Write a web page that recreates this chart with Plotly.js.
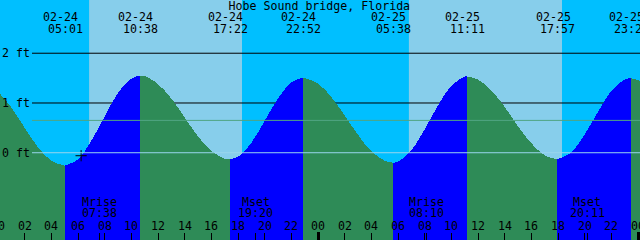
<!DOCTYPE html>
<html>
<head>
<meta charset="utf-8">
<script src="https://cdn.plot.ly/plotly-3.0.1.min.js"></script>
<style>
html,body{margin:0;padding:0;background:#00BFFF;}
#chart{width:640px;height:240px;}
.js-fill{shape-rendering:crispEdges;}
</style>
</head>
<body>
<div id="chart"></div>
<script>
// ---------------- data ----------------
const chartTitle = "Hobe Sound bridge, Florida";

// tide extremes
const tideDays    = [0, 0, 0, 0, 1, 1, 1, 1];
const tideDates   = ["02-24", "02-24", "02-24", "02-24", "02-25", "02-25", "02-25", "02-25"];
const tideTimes   = ["05:01", "10:38", "17:22", "22:52", "05:38", "11:11", "17:57", "23:27"];
const tideHeights = [-0.26, 1.55, -0.13, 1.51, -0.20, 1.53, -0.13, 1.50];

// tide height read at each hour from 02-24 00:00 (feet)
const curveHours = [0,1,2,3,4,5,6,7,8,9,10,11,12,13,14,15,16,17,18,19,20,21,22,23,24,
                    25,26,27,28,29,30,31,32,33,34,35,36,37,38,39,40,41,42,43,44,45,46,47,48,49];
const curveFeet  = [1.23,0.91,0.50,0.11,-0.16,-0.26,-0.13,0.24,0.73,1.20,1.49,1.54,1.38,1.09,0.71,0.33,0.04,-0.12,
                    -0.08,0.20,0.64,1.09,1.41,1.51,1.39,1.12,0.75,0.36,0.03,-0.16,-0.18,0.05,0.47,0.95,1.34,1.53,
                    1.47,1.25,0.92,0.53,0.19,-0.05,-0.13,0.01,0.37,0.82,1.24,1.47,1.46,1.33];

// sun
const sunDays    = [0, 1];
const sunrise    = ["06:50", "06:49"];
const sunset     = ["18:18", "18:18"];

// moon
const moonDays   = [0, 0, 1, 1];
const moonLabels = ["Mrise", "Mset", "Mrise", "Mset"];
const moonTimes  = ["07:38", "19:20", "08:10", "20:11"];

// current-time mark
const nowTime = "06:14";
const nowFeet = -0.06;

// axis ticks / labels
const hourTicks  = [0,2,4,6,8,10,12,14,16,18,20,22,24,26,28,30,32,34,36,38,40,42,44,46,48];
const tickLabels = ["00","02","04","06","08","10","12","14","16","18","20","22",
                    "00","02","04","06","08","10","12","14","16","18","20","22","00"];
const midnights  = [0, 24, 48];
const levelFeet   = [2, 1, 0];
const levelLabels = ["2 ft", "1 ft", "0 ft"];
const meanLevel  = 0.65;

// ---------------- styling ----------------
const C_NIGHT = "#00BFFF", C_DAY = "#87CEEB", C_FALL = "#2E8B57", C_RISE = "#0000FF";
const C_ZERO = "#9AD5EE", C_MEAN = "#50A583";
const FONT = {family: "DejaVu Sans Mono, monospace", size: 11.6, color: "#000"};
const W = 640, H = 240;
const xRange = [0.15, 48.15];
const yRange = [-1.754, 3.070];
const py = p => 1 - p / H;                                          // pixel row -> paper y
const xPaper = t => (t - xRange[0]) / (xRange[1] - xRange[0]);      // hour -> paper x (same linear axis)

function hm(s, day) { const [h, m] = s.split(":").map(Number); return day * 24 + h + m / 60; }

// ---------------- tide traces ----------------
const extT = tideTimes.map((s, i) => hm(s, tideDays[i]));
const bounds = [{t: curveHours[0], v: curveFeet[0]}]
  .concat(extT.map((t, i) => ({t, v: tideHeights[i]})))
  .concat([{t: curveHours[curveHours.length - 1], v: curveFeet[curveFeet.length - 1]}]);

const traces = [];
const yBase = yRange[0] - 0.2;
for (let k = 0; k < bounds.length - 1; k++) {
  const a = bounds[k], b = bounds[k + 1];
  const xs = [a.t], ys = [a.v];
  curveHours.forEach((t, i) => {
    if (t > a.t + 0.15 && t < b.t - 0.15) { xs.push(t); ys.push(curveFeet[i]); }
  });
  if (b.t !== a.t) { xs.push(b.t); ys.push(b.v); }
  const falling = (k === 0) ? true : (a.v > b.v);
  const col = falling ? C_FALL : C_RISE;
  traces.push({x: [a.t, b.t], y: [yBase, yBase], mode: "lines", line: {width: 0}, hoverinfo: "skip", showlegend: false});
  traces.push({x: xs, y: ys, mode: "lines", line: {shape: "spline", width: 0, color: col},
               fill: "tonexty", fillcolor: col, hoverinfo: "skip", showlegend: false});
}
traces.push({x: [hm(nowTime, 0)], y: [nowFeet], xaxis: "x2", mode: "markers",
             marker: {symbol: "cross-thin", size: 8, color: "#000", line: {width: 1, color: "#000"}},
             hoverinfo: "skip", showlegend: false});

// ---------------- shapes ----------------
const shapes = [];
sunrise.forEach((s, i) => {
  shapes.push({type: "rect", xref: "x", yref: "paper", x0: hm(s, sunDays[i]), x1: hm(sunset[i], sunDays[i]),
               y0: 0, y1: 1, fillcolor: C_DAY, line: {width: 0}, layer: "below"});
});
levelFeet.forEach(v => {
  if (v === 0) return;
  shapes.push({type: "line", xref: "paper", yref: "y", x0: 32 / W, x1: 1, y0: v, y1: v,
               line: {color: "#000", width: 1}, layer: "below"});
});
shapes.push({type: "line", xref: "paper", yref: "y", x0: 32 / W, x1: 1, y0: 0, y1: 0,
             line: {color: C_ZERO, width: 1}, layer: "above"});
shapes.push({type: "line", xref: "paper", yref: "y", x0: 32 / W, x1: 1, y0: meanLevel, y1: meanLevel,
             line: {color: C_MEAN, width: 1}, layer: "above"});

// ---------------- annotations ----------------
const ann = [];
const base = {showarrow: false, font: FONT, borderpad: 0, yanchor: "middle"};
tideTimes.forEach((s, i) => {
  const t = extT[i];
  ann.push(Object.assign({}, base, {text: tideDates[i], xref: "x", yref: "paper", x: t, y: py(16.8), xanchor: "center", xshift: -4.3}));
  ann.push(Object.assign({}, base, {text: s, xref: "x", yref: "paper", x: t, y: py(29), xanchor: "center", xshift: 0.5}));
});
moonTimes.forEach((s, i) => {
  const t = hm(s, moonDays[i]);
  ann.push(Object.assign({}, base, {text: moonLabels[i], xref: "x", yref: "paper", x: t, y: py(202), xanchor: "center"}));
  ann.push(Object.assign({}, base, {text: s, xref: "x", yref: "paper", x: t, y: py(213.3), xanchor: "center"}));
});
hourTicks.forEach((t, i) => {
  ann.push(Object.assign({}, base, {text: tickLabels[i], xref: "paper", yref: "paper", x: xPaper(t), y: py(225.5), xanchor: "center"}));
});
levelFeet.forEach((v, i) => {
  ann.push(Object.assign({}, base, {text: levelLabels[i], xref: "paper", yref: "y", x: 1 / W, y: v, xanchor: "left"}));
});

// ---------------- layout ----------------
const moonT = moonTimes.map((s, i) => hm(s, moonDays[i]));
const layout = {
  width: W, height: H,
  margin: {l: 0, r: 0, t: 0, b: 0, pad: 0},
  paper_bgcolor: C_NIGHT, plot_bgcolor: C_NIGHT,
  showlegend: false,
  hovermode: false,
  title: {text: chartTitle, font: FONT, x: 0.499, xref: "paper", xanchor: "center", y: py(5.6), yref: "container", yanchor: "middle"},
  xaxis: {range: xRange, showgrid: false, zeroline: false, showline: false,
          ticks: "inside", ticklen: 7, tickwidth: 1, tickcolor: "#000",
          tickmode: "array", tickvals: hourTicks.concat(moonT), showticklabels: false, fixedrange: true},
  xaxis2: {range: xRange, overlaying: "x", anchor: "y", side: "bottom", showgrid: false, zeroline: false, showline: false,
           ticks: "inside", ticklen: 8, tickwidth: 3, tickcolor: "#000",
           tickmode: "array", tickvals: midnights, showticklabels: false, fixedrange: true},
  yaxis: {range: yRange, showgrid: false, zeroline: false, showline: false, showticklabels: false, ticks: "", fixedrange: true},
  shapes: shapes,
  annotations: ann
};

Plotly.newPlot("chart", traces, layout, {staticPlot: true, displayModeBar: false});
</script>
</body>
</html>
